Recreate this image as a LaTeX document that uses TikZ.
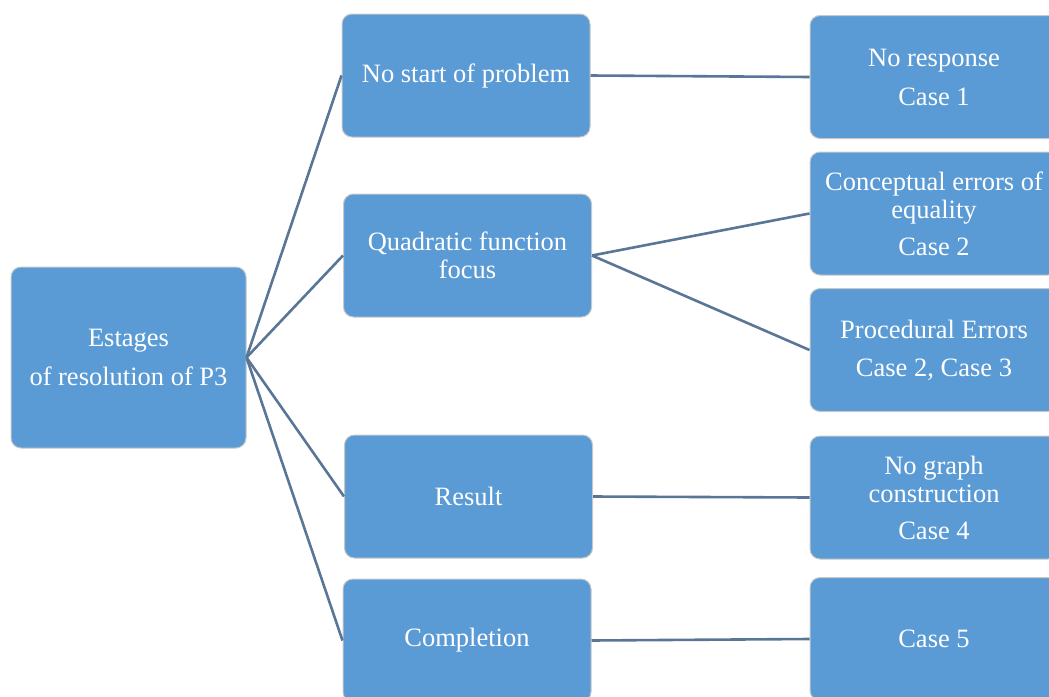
\documentclass[tikz,border=0pt]{standalone}
\usepackage{fontspec}
\setmainfont{Liberation Serif}
\definecolor{boxblue}{HTML}{5B9BD5}
\definecolor{linkblue}{HTML}{5A7696}
\definecolor{rimgray}{HTML}{C8C8C8}
\begin{document}
\begin{tikzpicture}[x=1pt,y=-1pt,
  box/.style={draw=rimgray, line width=1pt, fill=boxblue, rounded corners=10pt,
    text=white, align=center, font=\fontsize{26.5}{28}\selectfont, inner sep=0pt},
  midbox/.style={box, minimum width=248pt, minimum height=123pt},
  link/.style={draw=linkblue, line width=2.6pt}]
\useasboundingbox (0,0) rectangle (1049,696);
\clip (0,0) rectangle (1049,696);
\node[box, minimum width=235pt, minimum height=181pt] (root) at (128.5,357.5) {Estages\\[11pt]of resolution of P3};
\node[midbox] (ns) at (466,75.5) {No start of problem};
\node[midbox] (qf) at (467.5,255.5) {Quadratic function\\focus};
\node[midbox] (res) at (468.5,496.5) {Result};
\node[midbox] (comp) at (467,640.5) {Completion};
\node[midbox] (nr) at (934,77) {No response\\[11pt]Case 1};
\node[midbox] (ce) at (934,213.5) {Conceptual errors of\\equality\\[9pt]Case 2};
\node[midbox] (pe) at (934,350) {Procedural Errors\\[10pt]Case 2, Case 3};
\node[midbox] (ng) at (934,497.5) {No graph\\construction\\[9pt]Case 4};
\node[midbox] (c5) at (934,639) {Case 5};
\draw[link] (root.east) -- (ns.west);
\draw[link] (root.east) -- (qf.west);
\draw[link] (root.east) -- (res.west);
\draw[link] (root.east) -- (comp.west);
\draw[link] (ns.east) -- (nr.west);
\draw[link] (qf.east) -- (ce.west);
\draw[link] (qf.east) -- (pe.west);
\draw[link] (res.east) -- (ng.west);
\draw[link] (comp.east) -- (c5.west);
\end{tikzpicture}
\end{document}
